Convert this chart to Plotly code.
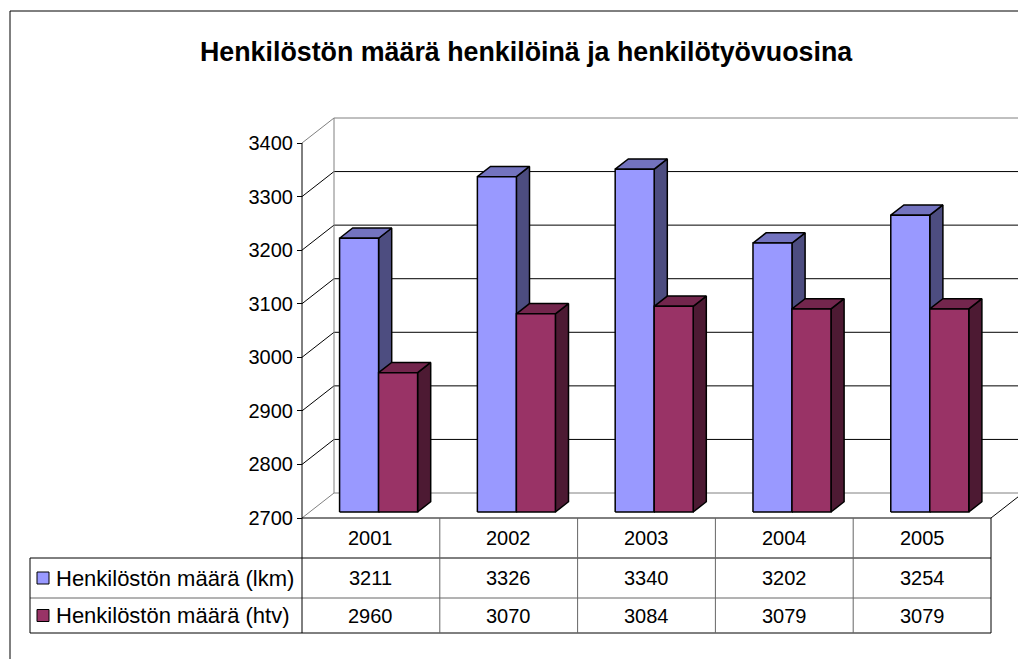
import plotly.graph_objects as go

# ---------------- data ----------------
years = ["2001", "2002", "2003", "2004", "2005"]
lkm = [3211, 3326, 3340, 3202, 3254]
htv = [2960, 3070, 3084, 3079, 3079]
series_names = ["Henkilöstön määrä (lkm)", "Henkilöstön määrä (htv)"]
y_ticks = [2700, 2800, 2900, 3000, 3100, 3200, 3300, 3400]

# ---------------- layout geometry ----------------
OFF = 8                      # page body margin; reference pixels -> figure pixels
W, H = 1026 - OFF, 659 - OFF
X0, Y0 = 302 - OFF, 518 - OFF  # front-left-bottom corner of plot box (figure px)
CW = 137.8                   # pixel width of one category
YMIN, YMAX = 2700, 3400
YS = 375 / (YMAX - YMIN)     # pixels per value unit
DXP, DYP = 32, 25            # depth offset of back wall in pixels
DX, DY = DXP / CW, DYP / YS  # depth offset in data units
PL, PR, PT = 296 - OFF, 0, 112 - OFF
PB = H - (524 - OFF)
PW, PH = W - PL - PR, H - PT - PB

BW = 39 / CW                 # bar width (category units)
D0, BD = 0.24, 0.41          # bar front depth, bar depth (fractions of wall depth)

FONT = "Arial, Liberation Sans, sans-serif"
colors = {
    0: dict(front="#9999FF", top="#7373BF", side="#4D4D80"),
    1: dict(front="#993366", top="#73264D", side="#4D1A33"),
}

def px_x(p):
    """reference x pixel -> paper fraction"""
    return (p - OFF - PL) / PW

def px_y(p):
    """reference y pixel -> paper fraction"""
    return (H - PB - (p - OFF)) / PH

fig = go.Figure()

# ---------------- bars (3D-look prisms) ----------------
for s, vals in enumerate([lkm, htv]):
    fx, fy, tx, ty, sx, sy = [], [], [], [], [], []
    for i, v in enumerate(vals):
        left = i + 0.5 - BW + s * BW + D0 * DX
        right = left + BW
        bot = YMIN + D0 * DY
        top = v + D0 * DY
        ox, oy = BD * DX, BD * DY
        fx += [left, right, right, left, left, None]
        fy += [bot, bot, top, top, bot, None]
        tx += [left, right, right + ox, left + ox, left, None]
        ty += [top, top, top + oy, top + oy, top, None]
        sx += [right, right + ox, right + ox, right, right, None]
        sy += [bot, bot + oy, top + oy, top, bot, None]
    c = colors[s]
    for xs, ys, col in [(sx, sy, c["side"]), (tx, ty, c["top"]), (fx, fy, c["front"])]:
        fig.add_trace(go.Scatter(
            x=xs, y=ys, mode="lines", fill="toself", fillcolor=col,
            line=dict(color="black", width=1.5), hoverinfo="skip",
            showlegend=False, name=series_names[s]))

# ---------------- walls, floor, gridlines ----------------
shapes = []
n = len(years)
for t in y_ticks:
    edge = t in (YMIN, YMAX)
    col = "#808080" if edge else "black"
    shapes.append(dict(type="line", xref="x", yref="y", x0=0, y0=t, x1=DX, y1=t + DY,
                       line=dict(color=col, width=1), layer="below"))
    shapes.append(dict(type="line", xref="x", yref="y", x0=DX, y0=t + DY, x1=n + DX, y1=t + DY,
                       line=dict(color=col, width=1), layer="below"))
for xx in (DX, n + DX):
    shapes.append(dict(type="line", xref="x", yref="y", x0=xx, y0=YMIN + DY, x1=xx, y1=YMAX + DY,
                       line=dict(color="#808080", width=1), layer="below"))
shapes.append(dict(type="line", xref="x", yref="y", x0=n, y0=YMIN, x1=n + DX, y1=YMIN + DY,
                   line=dict(color="black", width=1), layer="below"))
shapes.append(dict(type="line", xref="x", yref="y", x0=0, y0=YMIN, x1=0, y1=YMAX,
                   line=dict(color="black", width=1)))

# ---------------- data table ----------------
T_TOP, T_R1, T_R2, T_BOT, T_LEFT = 518, 558, 598, 633, 30   # reference pixels
xc = [px_x(302 + i * CW) for i in range(n + 1)]
line_k = dict(color="black", width=1)
line_g = dict(color="#666666", width=1)
shapes.append(dict(type="line", xref="paper", yref="paper", x0=xc[0], x1=xc[-1],
                   y0=px_y(T_TOP), y1=px_y(T_TOP), line=line_k))
shapes.append(dict(type="line", xref="paper", yref="paper", x0=px_x(T_LEFT), x1=xc[-1],
                   y0=px_y(T_R1), y1=px_y(T_R1), line=line_k))
shapes.append(dict(type="line", xref="paper", yref="paper", x0=px_x(T_LEFT), x1=xc[-1],
                   y0=px_y(T_R2), y1=px_y(T_R2), line=line_g))
shapes.append(dict(type="line", xref="paper", yref="paper", x0=px_x(T_LEFT), x1=xc[-1],
                   y0=px_y(T_BOT), y1=px_y(T_BOT), line=line_k))
shapes.append(dict(type="line", xref="paper", yref="paper", x0=px_x(T_LEFT), x1=px_x(T_LEFT),
                   y0=px_y(T_R1), y1=px_y(T_BOT), line=line_k))
for i, xv in enumerate(xc):
    shapes.append(dict(type="line", xref="paper", yref="paper", x0=xv, x1=xv,
                       y0=px_y(T_TOP), y1=px_y(T_BOT),
                       line=line_k if i in (0, n) else line_g))

annotations = []
tf = dict(family=FONT, size=20, color="black")
lf = dict(family=FONT, size=22, color="black")
rows_y = [(T_R1 + T_R2) / 2, (T_R2 + T_BOT) / 2]
for i, yr in enumerate(years):
    cx = (xc[i] + xc[i + 1]) / 2
    annotations.append(dict(x=cx, y=px_y((T_TOP + T_R1) / 2), xref="paper", yref="paper",
                            text=yr, showarrow=False, font=tf, xanchor="center", yanchor="middle"))
    for r, vals in enumerate([lkm, htv]):
        annotations.append(dict(x=cx, y=px_y(rows_y[r]), xref="paper", yref="paper",
                                text=str(vals[i]), showarrow=False, font=tf,
                                xanchor="center", yanchor="middle"))
for r, name in enumerate(series_names):
    ym = rows_y[r]
    shapes.append(dict(type="rect", xref="paper", yref="paper",
                       x0=px_x(37), x1=px_x(49), y0=px_y(ym + 6), y1=px_y(ym - 6),
                       fillcolor=colors[r]["front"], line=dict(color="black", width=1)))
    annotations.append(dict(x=px_x(54), y=px_y(ym), xref="paper", yref="paper", text=name,
                            showarrow=False, font=lf, xanchor="left", yanchor="middle"))

annotations.append(dict(x=px_x(526), y=px_y(52), xref="paper", yref="paper",
                        text="<b>Henkilöstön määrä henkilöinä ja henkilötyövuosina</b>",
                        showarrow=False, font=dict(family=FONT, size=26.8, color="black"),
                        xanchor="center", yanchor="middle"))

shapes.append(dict(type="rect", xref="paper", yref="paper",
                   x0=px_x(10), x1=px_x(1040), y0=px_y(11), y1=px_y(680),
                   line=dict(color="black", width=1), fillcolor="rgba(0,0,0,0)"))

fig.update_layout(
    width=W, height=H,
    margin=dict(l=PL, r=PR, t=PT, b=PB, pad=0),
    paper_bgcolor="white", plot_bgcolor="white",
    showlegend=False,
    xaxis=dict(range=[(PL - X0) / CW, (W - PR - X0) / CW], visible=False, fixedrange=True),
    yaxis=dict(range=[YMIN - (H - PB - Y0) / YS, YMIN + (Y0 - PT) / YS],
               tickvals=y_ticks, ticktext=[str(t) for t in y_ticks],
               ticks="outside", ticklen=5, tickcolor="black", tickwidth=1,
               showgrid=False, zeroline=False, showline=False,
               anchor="free", position=(X0 - PL) / PW,
               tickfont=dict(family=FONT, size=20, color="black"), fixedrange=True),
    shapes=shapes, annotations=annotations,
)

fig.write_html("out.html")
